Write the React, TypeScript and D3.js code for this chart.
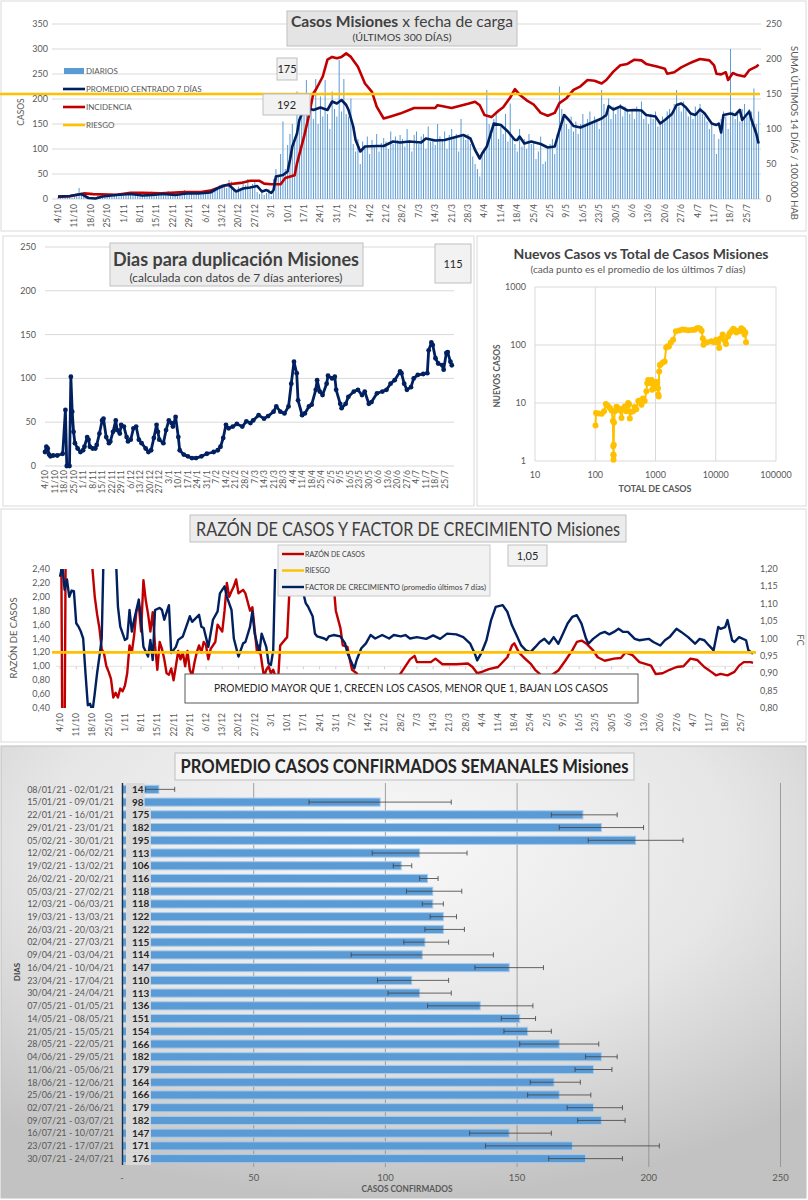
import React, { useEffect, useRef } from 'react';
import * as d3 from 'd3';

// ---------- shared weekly ticks (day 0 = 4/10/2020, 300 days) ----------
const semanasTicks = ['4/10', '11/10', '18/10', '25/10', '1/11', '8/11', '15/11', '22/11', '29/11', '6/12', '13/12', '20/12', '27/12', '3/1', '10/1', '17/1', '24/1', '31/1', '7/2', '14/2', '21/2', '28/2', '7/3', '14/3', '21/3', '28/3', '4/4', '11/4', '18/4', '25/4', '2/5', '9/5', '16/5', '23/5', '30/5', '6/6', '13/6', '20/6', '27/6', '4/7', '11/7', '18/7', '25/7'];

// ---------- Casos Misiones x fecha de carga ----------
const diarios = [
  3, 5, 2, 8, 4, 6, 3,
  4, 7, 22, 9, 5, 3, 1,
  0, 1, 2, 6, 3, 4, 5,
  8, 6, 4, 9, 7, 5, 10,
  6, 12, 8, 14, 9, 11, 7,
  5, 9, 13, 6, 8, 15, 10,
  9, 12, 14, 7, 10, 16, 8,
  6, 11, 13, 9, 7, 18, 10,
  12, 10, 8, 14, 11, 9, 13,
  15, 12, 10, 14, 20, 24, 28,
  30, 27, 22, 38, 35, 18, 12,
  25, 20, 35, 28, 40, 22, 30,
  36, 14, 10, 18, 8, 12, 20,
  6, 40, 60, 45, 90, 155, 60,
  108, 130, 150, 120, 215, 160, 178,
  190, 238, 165, 200, 160, 240, 150,
  205, 165, 238, 170, 140, 215, 180,
  165, 278, 175, 240, 170, 165, 201,
  110, 95, 120, 70, 115, 102, 125,
  90, 118, 108, 130, 95, 112, 122,
  115, 100, 135, 110, 125, 118, 128,
  120, 105, 140, 118, 95, 128, 135,
  110, 125, 130, 100, 145, 115, 120,
  108, 150, 125, 118, 135, 100, 128,
  140, 122, 130, 95, 160, 125, 118,
  130, 110, 85, 70, 60, 45, 90,
  100, 218, 150, 140, 160, 175, 120,
  145, 130, 170, 115, 191, 125, 110,
  95, 140, 105, 120, 100, 130, 110,
  115, 80, 95, 125, 70, 75, 100,
  110, 120, 90, 130, 225, 180, 160,
  150, 140, 165, 135, 155, 130, 150,
  170, 145, 160, 175, 150, 165, 155,
  140, 218, 190, 175, 201, 160, 185,
  170, 180, 190, 165, 185, 175, 170,
  180, 160, 185, 175, 195, 160, 165,
  150, 170, 160, 175, 145, 150, 165,
  155, 175, 180, 170, 190, 218, 185,
  175, 195, 180, 165, 170, 160, 185,
  175, 190, 170, 165, 155, 140, 150,
  130, 90, 120, 160, 175, 165, 140,
  300, 175, 160, 170, 155, 180, 190,
  165, 180, 175, 221, 150, 175,
];

const promedio7: [number, number][] = [[0, 5], [5, 6], [10, 10], [13, 2], [16, 1], [19, 5], [25, 8], [31, 10], [36, 7], [40, 8], [45, 10], [50, 8], [55, 11], [60, 11], [65, 13], [68, 21], [71, 27], [73, 28], [76, 15], [79, 21], [82, 23], [85, 26], [87, 15], [89, 18], [91, 12], [92, 18], [93, 45], [96, 48], [98, 55], [99, 78], [100, 105], [102, 131], [103, 158], [105, 181], [106, 183], [109, 178], [112, 183], [115, 178], [117, 195], [119, 191], [121, 198], [123, 188], [124, 178], [126, 145], [127, 118], [129, 95], [131, 105], [136, 106], [139, 106], [143, 115], [146, 113], [150, 115], [155, 113], [157, 121], [161, 117], [165, 118], [169, 123], [173, 128], [176, 121], [178, 98], [180, 81], [181, 91], [183, 105], [186, 151], [189, 148], [192, 135], [195, 118], [196, 118], [197, 125], [199, 111], [202, 115], [206, 110], [209, 103], [212, 105], [214, 138], [216, 168], [218, 158], [220, 146], [223, 143], [227, 151], [229, 155], [232, 161], [234, 168], [235, 186], [237, 179], [240, 185], [243, 177], [246, 178], [249, 177], [251, 168], [255, 165], [257, 151], [259, 158], [262, 170], [264, 188], [266, 191], [268, 183], [270, 171], [272, 168], [274, 179], [276, 171], [279, 151], [281, 148], [282, 151], [283, 133], [284, 168], [287, 171], [289, 168], [291, 178], [292, 158], [295, 175], [296, 158], [298, 131], [299, 111]];

const incidencia: [number, number][] = [[0, 3], [5, 4], [11, 8], [15, 7], [25, 6], [31, 9], [36, 9], [44, 8], [54, 10], [61, 10], [65, 12], [69, 17], [73, 21], [78, 23], [82, 26], [86, 26], [88, 22], [91, 21], [95, 21], [97, 30], [101, 34], [102, 51], [105, 89], [107, 118], [109, 151], [110, 156], [113, 175], [115, 199], [117, 203], [119, 201], [121, 203], [123, 208], [125, 203], [128, 189], [131, 165], [134, 153], [136, 132], [139, 115], [142, 118], [146, 122], [152, 130], [161, 130], [162, 134], [168, 130], [175, 136], [178, 139], [180, 134], [182, 120], [185, 117], [188, 126], [190, 131], [193, 145], [195, 157], [197, 149], [200, 141], [203, 135], [206, 123], [209, 119], [212, 123], [214, 137], [217, 144], [220, 156], [223, 161], [226, 170], [229, 169], [232, 165], [234, 170], [237, 182], [240, 191], [243, 193], [246, 199], [249, 198], [251, 193], [256, 189], [259, 186], [260, 179], [263, 181], [266, 188], [269, 193], [271, 196], [274, 200], [278, 198], [280, 191], [281, 179], [283, 178], [285, 181], [286, 170], [288, 180], [290, 177], [293, 175], [295, 184], [298, 189], [299, 192]];

const riesgoIncidencia = 150;
const ultimoDiario = 175;
const ultimaIncidencia = 192;

// ---------- Dias para duplicación ----------
const duplicacion: [number, number][] = [[0, 16], [1, 22], [2, 20], [3, 13], [4, 11], [6, 12], [9, 12], [13, 14], [15, 64], [16, 0], [18, 0], [19, 102], [20, 62], [21, 39], [22, 26], [24, 20], [26, 16], [28, 18], [29, 22], [31, 33], [32, 30], [33, 22], [35, 20], [37, 20], [38, 24], [40, 37], [42, 52], [43, 54], [45, 33], [47, 26], [48, 28], [50, 39], [52, 52], [53, 41], [55, 37], [56, 47], [58, 45], [60, 33], [61, 28], [63, 30], [65, 43], [67, 45], [69, 30], [71, 26], [74, 20], [76, 16], [78, 18], [80, 32], [82, 47], [83, 39], [84, 30], [87, 26], [89, 41], [91, 52], [93, 49], [94, 45], [96, 56], [98, 33], [99, 18], [102, 13], [105, 11], [108, 9], [111, 9], [115, 11], [119, 14], [124, 16], [127, 18], [129, 22], [131, 32], [133, 47], [135, 43], [138, 45], [141, 48], [145, 45], [148, 51], [151, 49], [153, 52], [157, 58], [161, 54], [164, 57], [168, 62], [170, 68], [173, 62], [176, 60], [179, 68], [181, 94], [183, 119], [185, 106], [186, 75], [189, 58], [191, 60], [194, 68], [196, 70], [199, 87], [200, 98], [202, 85], [204, 81], [207, 94], [208, 103], [211, 100], [213, 102], [214, 87], [217, 71], [218, 66], [221, 71], [223, 79], [227, 85], [230, 87], [233, 81], [235, 85], [238, 71], [240, 73], [244, 83], [248, 85], [251, 87], [254, 94], [257, 98], [261, 108], [262, 106], [264, 94], [266, 87], [269, 90], [271, 100], [274, 104], [278, 105], [281, 106], [282, 132], [284, 141], [285, 138], [287, 123], [289, 117], [292, 115], [293, 110], [295, 129], [296, 130], [298, 119], [299, 115]];
const ultimaDuplicacion = 115;

// ---------- Nuevos casos vs total (total, nuevos) ----------
const nuevosVsTotal: [number, number][] = [[101, 4.1], [103, 6.7], [115, 6.6], [128, 6.5], [140, 7.2], [150, 9.6], [162, 9.0], [175, 8.2], [187, 7.4], [196, 4.9], [199, 1.8], [200, 1.3], [201, 1.05], [202, 1.25], [203, 1.9], [205, 4.6], [211, 7.2], [225, 8.6], [239, 8.2], [255, 7.5], [273, 5.5], [290, 8.0], [309, 8.7], [328, 7.2], [340, 9.0], [351, 10], [365, 9.5], [375, 5.4], [390, 7.0], [424, 7.2], [450, 8.5], [480, 7.8], [518, 10.8], [550, 11], [585, 9.3], [620, 12], [662, 10.8], [705, 16], [730, 22], [755, 25], [800, 22], [860, 25], [880, 17], [930, 20], [980, 23], [1020, 18], [1070, 23], [1100, 18], [1110, 14], [1130, 13], [1150, 35], [1180, 45], [1220, 46], [1320, 50], [1420, 52], [1505, 91], [1580, 95], [1670, 94], [1800, 110], [1960, 123], [2180, 172], [2500, 178], [2800, 185], [3080, 184], [3500, 180], [4000, 182], [4450, 184], [4800, 192], [5130, 196], [5500, 190], [5830, 176], [6100, 130], [6260, 101], [6500, 112], [7200, 112], [8490, 116], [9300, 112], [10200, 123], [10800, 110], [11400, 89], [12000, 130], [13000, 151], [14000, 120], [14800, 104], [16000, 140], [17000, 160], [18200, 172], [19500, 190], [20500, 184], [22000, 165], [23500, 175], [25000, 172], [26500, 195], [28500, 184], [29500, 170], [30000, 151], [31000, 165], [31800, 112]];

// ---------- Razón de casos y factor de crecimiento ----------
const razon: [number, number][] = [[0, 6], [1, 0], [2, 0], [3, 6], [8, 5], [13, 2.9], [14, 2.4], [15, 2.0], [16, 1.75], [17, 1.55], [18, 1.25], [19, 1.18], [20, 1.0], [21, 0.92], [22, 0.82], [23, 0.55], [24, 0.62], [25, 0.55], [26, 0.68], [27, 0.64], [28, 0.72], [29, 0.9], [30, 1.3], [31, 1.2], [32, 1.45], [33, 1.8], [34, 1.88], [35, 1.5], [36, 2.24], [37, 1.95], [38, 1.75], [39, 1.5], [40, 1.78], [41, 1.3], [42, 0.95], [43, 1.35], [44, 1.25], [45, 1.1], [46, 0.9], [47, 0.88], [48, 0.97], [49, 0.8], [50, 1.0], [51, 1.22], [52, 1.1], [53, 1.2], [54, 1.0], [55, 1.22], [56, 0.95], [57, 0.86], [58, 1.05], [59, 1.2], [60, 1.3], [61, 1.2], [62, 1.35], [63, 1.3], [64, 1.1], [65, 1.25], [67, 1.35], [68, 1.6], [70, 1.5], [71, 1.8], [72, 2.2], [73, 2.0], [74, 2.08], [75, 2.15], [76, 2.25], [77, 2.05], [79, 2.1], [80, 2.05], [82, 1.8], [83, 1.85], [85, 1.2], [86, 1.3], [88, 0.85], [89, 0.95], [90, 1.0], [91, 0.9], [92, 0.95], [94, 0.75], [95, 1.3], [97, 1.38], [98, 1.42], [99, 2.1], [100, 2.7], [105, 5], [110, 4.5], [115, 3.5], [117, 2.6], [119, 1.8], [121, 1.55], [122, 1.3], [124, 1.28], [125, 1.1], [126, 0.95], [128, 0.9], [129, 0.85], [130, 0.8], [133, 0.78], [135, 0.7], [136, 0.62], [138, 0.56], [140, 0.58], [142, 0.65], [144, 0.75], [146, 0.85], [149, 1.0], [151, 1.1], [153, 1.15], [154, 1.06], [160, 1.06], [162, 1.11], [165, 1.03], [171, 1.03], [176, 1.04], [178, 0.99], [180, 0.9], [182, 0.92], [185, 0.96], [189, 0.99], [193, 1.13], [195, 1.3], [196, 1.33], [198, 1.2], [200, 1.13], [203, 1.04], [205, 0.95], [207, 0.89], [209, 0.79], [212, 0.87], [215, 0.94], [218, 1.08], [221, 1.23], [223, 1.35], [225, 1.37], [227, 1.33], [230, 1.23], [232, 1.13], [235, 1.08], [239, 1.11], [242, 1.12], [244, 1.2], [247, 1.16], [250, 1.06], [255, 1.01], [257, 0.89], [260, 0.9], [263, 0.95], [266, 0.99], [269, 1.0], [272, 1.11], [275, 1.09], [278, 0.99], [281, 0.92], [283, 0.87], [285, 0.89], [288, 0.87], [291, 0.92], [293, 1.01], [295, 1.06], [298, 1.06], [299, 1.05]];

const factorCrec: [number, number][] = [[0, 1.178], [1, 1.21], [2, 1.14], [3, 1.17], [4, 1.12], [5, 1.138], [6, 1.136], [7, 1.044], [8, 1.034], [9, 1.02], [10, 1.0], [11, 0.9], [12, 0.808], [13, 0.812], [14, 0.79], [15, 0.842], [16, 0.9], [17, 0.948], [18, 1.0], [19, 1.3], [22, 1.3], [24, 1.25], [25, 1.092], [26, 1.034], [28, 0.996], [29, 1.0], [30, 1.082], [31, 1.02], [32, 1.054], [34, 1.112], [35, 1.054], [36, 0.976], [38, 0.948], [39, 0.996], [40, 0.938], [41, 1.082], [43, 1.088], [44, 1.082], [45, 1.054], [47, 1.096], [48, 0.958], [50, 0.976], [51, 0.996], [53, 1.006], [55, 1.044], [56, 1.064], [57, 1.048], [60, 1.068], [61, 1.034], [62, 1.03], [64, 0.976], [66, 1.054], [68, 1.078], [69, 1.13], [71, 1.15], [72, 1.12], [74, 1.082], [75, 1.0], [77, 0.948], [79, 0.986], [80, 0.99], [82, 1.034], [83, 1.078], [84, 1.014], [86, 0.958], [87, 1.014], [89, 0.976], [90, 0.928], [91, 0.924], [92, 0.966], [93, 1.25], [96, 1.4], [100, 1.35], [103, 1.22], [104, 1.16], [105, 1.13], [106, 1.102], [107, 1.092], [109, 1.064], [110, 1.014], [111, 1.006], [114, 1.0], [115, 0.996], [116, 1.006], [118, 1.01], [121, 1.006], [123, 0.986], [124, 0.958], [126, 0.928], [127, 0.914], [128, 0.938], [130, 0.972], [132, 0.986], [134, 1.01], [136, 1.0], [139, 1.01], [142, 1.0], [144, 1.01], [147, 1.006], [149, 1.01], [151, 1.0], [154, 1.004], [158, 0.999], [161, 1.009], [164, 0.999], [167, 1.014], [171, 1.012], [174, 1.004], [177, 0.985], [179, 0.956], [180, 0.937], [182, 0.961], [184, 0.995], [186, 1.053], [188, 1.091], [191, 1.096], [193, 1.077], [195, 1.038], [197, 1.009], [199, 0.98], [201, 0.966], [203, 0.961], [205, 0.975], [207, 0.99], [209, 0.999], [211, 0.985], [213, 1.004], [215, 0.985], [217, 1.014], [219, 1.043], [221, 1.062], [223, 1.067], [225, 1.043], [227, 0.999], [228, 0.985], [230, 0.999], [233, 1.014], [235, 1.019], [237, 1.012], [239, 1.019], [241, 1.028], [243, 1.019], [245, 1.019], [248, 0.999], [250, 0.995], [254, 0.999], [256, 0.99], [259, 0.98], [261, 0.995], [263, 1.004], [266, 1.028], [268, 1.019], [271, 1.004], [274, 0.985], [276, 0.999], [278, 0.995], [280, 0.98], [282, 0.966], [284, 1.033], [285, 1.028], [287, 1.033], [288, 1.053], [290, 0.995], [291, 0.99], [293, 1.004], [296, 0.995], [297, 0.966], [299, 0.956]];

const riesgoRazon = 1.2;
const ultimoFC = '1,05';

// ---------- Promedio casos confirmados semanales ----------
const semanas = ['08/01/21 - 02/01/21', '15/01/21 - 09/01/21', '22/01/21 - 16/01/21', '29/01/21 - 23/01/21', '05/02/21 - 30/01/21', '12/02/21 - 06/02/21', '19/02/21 - 13/02/21', '26/02/21 - 20/02/21', '05/03/21 - 27/02/21', '12/03/21 - 06/03/21', '19/03/21 - 13/03/21', '26/03/21 - 20/03/21', '02/04/21 - 27/03/21', '09/04/21 - 03/04/21', '16/04/21 - 10/04/21', '23/04/21 - 17/04/21', '30/04/21 - 24/04/21', '07/05/21 - 01/05/21', '14/05/21 - 08/05/21', '21/05/21 - 15/05/21', '28/05/21 - 22/05/21', '04/06/21 - 29/05/21', '11/06/21 - 05/06/21', '18/06/21 - 12/06/21', '25/06/21 - 19/06/21', '02/07/21 - 26/06/21', '09/07/21 - 03/07/21', '16/07/21 - 10/07/21', '23/07/21 - 17/07/21', '30/07/21 - 24/07/21'];
const promSemanal = [14, 98, 175, 182, 195, 113, 106, 116, 118, 118, 122, 122, 115, 114, 147, 110, 113, 136, 151, 154, 166, 182, 179, 164, 166, 179, 182, 147, 171, 176];
const minSemanal = [9, 71, 163, 166, 177, 95, 103, 113, 108, 114, 117, 115, 107, 87, 134, 97, 101, 116, 144, 145, 151, 176, 172, 155, 154, 169, 173, 132, 138, 162];
const maxSemanal = [20, 125, 188, 198, 213, 131, 110, 120, 129, 122, 127, 130, 124, 141, 160, 124, 125, 156, 157, 163, 181, 188, 186, 174, 178, 190, 191, 163, 204, 190];

const FONT = 'Lato, "Open Sans", "DejaVu Sans", sans-serif';
const GRAY = '#595959';
const NAVY = '#002060';
const RED = '#c00000';
const YELLOW = '#ffc000';
const BLUE = '#5b9bd5';
const GRID = '#d9d9d9';

const coma = (v: number) => d3.format('.2f')(v).replace('.', ',');

function txt(g: any, x: number, y: number, s: string, o: any = {}) {
  const t = g.append('text')
    .attr('x', x).attr('y', y)
    .attr('font-size', o.size ?? 9)
    .attr('fill', o.fill ?? GRAY)
    .attr('text-anchor', o.anchor ?? 'start')
    .attr('font-weight', o.weight ?? 'normal')
    .text(s);
  if (o.len) t.attr('textLength', o.len).attr('lengthAdjust', 'spacingAndGlyphs');
  if (o.rotate) t.attr('transform', `rotate(${o.rotate},${x},${y})`);
  if (o.mid) t.attr('dominant-baseline', 'central');
  return t;
}

function box(g: any, x: number, y: number, w: number, h: number, fill = '#f2f2f2', stroke = '#bfbfbf') {
  return g.append('rect').attr('x', x).attr('y', y).attr('width', w).attr('height', h)
    .attr('fill', fill).attr('stroke', stroke).attr('stroke-width', 1);
}

function dateLabels(g: any, x: any, yEnd: number) {
  semanasTicks.forEach((s, i) => {
    txt(g, x(i * 7), yEnd, s, { size: 8.5, anchor: 'end', rotate: -90, mid: true });
  });
}

function drawCasos(svg: any) {
  const g = svg.append('g');
  const x = d3.scaleLinear().domain([0, 299]).range([58, 758.6]);
  const yL = d3.scaleLinear().domain([0, 350]).range([199, 24]);
  const yR = d3.scaleLinear().domain([0, 250]).range([199, 24]);

  g.selectAll('line.grid').data(d3.range(0, 351, 50)).join('line')
    .attr('x1', 52).attr('x2', 761).attr('y1', (d: number) => yL(d)).attr('y2', (d: number) => yL(d))
    .attr('stroke', GRID).attr('stroke-width', 1);

  g.selectAll('rect.diario').data(diarios).join('rect')
    .attr('x', (_: number, i: number) => x(i) - 0.5).attr('width', 1.0)
    .attr('y', (d: number) => yL(d)).attr('height', (d: number) => yL(0) - yL(d))
    .attr('fill', BLUE);

  const lineR = d3.line<[number, number]>().x(d => x(d[0])).y(d => yR(d[1]));
  const lineL = d3.line<[number, number]>().x(d => x(d[0])).y(d => yL(d[1]));
  g.append('path').attr('d', lineR(incidencia)).attr('fill', 'none').attr('stroke', RED).attr('stroke-width', 2.6).attr('stroke-linejoin', 'round');
  g.append('path').attr('d', lineL(promedio7)).attr('fill', 'none').attr('stroke', NAVY).attr('stroke-width', 2.6).attr('stroke-linejoin', 'round');
  g.append('line').attr('x1', 0).attr('x2', 760).attr('y1', yR(riesgoIncidencia)).attr('y2', yR(riesgoIncidencia))
    .attr('stroke', YELLOW).attr('stroke-width', 2.6);

  d3.range(0, 351, 50).forEach(v => txt(g, 48, yL(v) + 3, String(v), { size: 9, anchor: 'end' }));
  d3.range(0, 251, 50).forEach(v => txt(g, 766, yR(v) + 3, String(v), { size: 9 }));
  dateLabels(g, x, 204);

  txt(g, 24, 112, 'CASOS', { size: 8.5, anchor: 'middle', rotate: -90 });
  txt(g, 791, 133, 'SUMA  ÚLTIMOS 14 DÍAS / 100.000 HAB', { size: 9, anchor: 'middle', rotate: 90, len: 174 });

  // legend
  const items = [
    { label: 'DIARIOS', color: BLUE, bar: true },
    { label: 'PROMEDIO CENTRADO 7 DÍAS', color: NAVY },
    { label: 'INCIDENCIA', color: RED },
    { label: 'RIESGO', color: YELLOW },
  ];
  items.forEach((it, i) => {
    const yy = 71 + i * 18;
    if (it.bar) g.append('rect').attr('x', 64).attr('y', yy - 3).attr('width', 20).attr('height', 6).attr('fill', it.color);
    else g.append('line').attr('x1', 63).attr('x2', 85).attr('y1', yy).attr('y2', yy).attr('stroke', it.color).attr('stroke-width', 2.6);
    txt(g, 86, yy + 3, it.label, { size: 8 });
  });

  // title
  box(g, 287, 11, 230, 35, '#e4e4e4', '#bfbfbf');
  const t = g.append('text').attr('x', 402).attr('y', 27).attr('text-anchor', 'middle').attr('font-size', 15).attr('fill', '#404040')
    .attr('textLength', 222).attr('lengthAdjust', 'spacingAndGlyphs');
  t.append('tspan').attr('font-weight', 'bold').text('Casos Misiones');
  t.append('tspan').text(' x fecha de carga');
  txt(g, 402, 41, '(ÚLTIMOS 300 DÍAS)', { size: 9.5, anchor: 'middle', fill: '#404040', len: 99 });

  box(g, 277, 58, 20, 22, '#f2f2f2');
  txt(g, 287, 73, String(ultimoDiario), { size: 11, anchor: 'middle', fill: '#262626' });
  box(g, 263, 94, 47, 21, '#f2f2f2');
  txt(g, 286.5, 109, String(ultimaIncidencia), { size: 11, anchor: 'middle', fill: '#262626' });
}

function drawDuplicacion(svg: any) {
  const g = svg.append('g');
  const x = d3.scaleLinear().domain([0, 299]).range([45, 451.8]);
  const y = d3.scaleLinear().domain([0, 250]).range([466, 247]);
  d3.range(0, 251, 50).forEach(v => {
    g.append('line').attr('x1', 45).attr('x2', 454).attr('y1', y(v)).attr('y2', y(v)).attr('stroke', GRID);
    txt(g, 36, y(v) + 3, String(v), { size: 9, anchor: 'end' });
  });
  const line = d3.line<[number, number]>().x(d => x(d[0])).y(d => y(d[1]));
  g.append('path').attr('d', line(duplicacion)).attr('fill', 'none').attr('stroke', NAVY).attr('stroke-width', 2.8).attr('stroke-linejoin', 'round');
  g.selectAll('circle').data(duplicacion).join('circle')
    .attr('cx', (d: [number, number]) => x(d[0])).attr('cy', (d: [number, number]) => y(d[1])).attr('r', 2.4).attr('fill', NAVY);
  dateLabels(g, x, 470);

  box(g, 110, 243, 253, 43, '#ececec');
  txt(g, 236, 266, 'Dias para duplicación Misiones', { size: 19, weight: 'bold', anchor: 'middle', fill: '#404040', len: 246 });
  txt(g, 236, 282, '(calculada con datos de 7 días anteriores)', { size: 11.5, anchor: 'middle', fill: '#404040', len: 213 });
  box(g, 435, 244, 36, 39, '#f2f2f2');
  txt(g, 453, 268, String(ultimaDuplicacion), { size: 11, anchor: 'middle', fill: '#262626' });
}

function drawScatter(svg: any) {
  const g = svg.append('g');
  const x = d3.scaleLog().domain([10, 100000]).range([535, 776]);
  const y = d3.scaleLog().domain([1, 1000]).range([461, 287]);
  [10, 100, 1000, 10000, 100000].forEach(v => {
    g.append('line').attr('x1', x(v)).attr('x2', x(v)).attr('y1', 287).attr('y2', 461).attr('stroke', GRID);
    txt(g, x(v), 478, String(v), { size: 9, anchor: 'middle' });
  });
  [1, 10, 100, 1000].forEach(v => {
    g.append('line').attr('x1', 535).attr('x2', 776).attr('y1', y(v)).attr('y2', y(v)).attr('stroke', GRID);
    txt(g, 526, y(v) + 3, String(v), { size: 9, anchor: 'end' });
  });
  const line = d3.line<[number, number]>().x(d => x(d[0])).y(d => y(d[1]));
  g.append('path').attr('d', line(nuevosVsTotal)).attr('fill', 'none').attr('stroke', YELLOW).attr('stroke-width', 2);
  g.selectAll('circle').data(nuevosVsTotal).join('circle')
    .attr('cx', (d: [number, number]) => x(d[0])).attr('cy', (d: [number, number]) => y(d[1])).attr('r', 3).attr('fill', YELLOW);

  txt(g, 641, 259, 'Nuevos Casos vs Total de Casos Misiones', { size: 13, weight: 'bold', anchor: 'middle', fill: '#404040', len: 255 });
  txt(g, 638, 273, '(cada punto es el promedio de los últimos 7 días)', { size: 9, anchor: 'middle', len: 215 });
  txt(g, 655, 492, 'TOTAL DE CASOS', { size: 9, weight: 'bold', anchor: 'middle', len: 73 });
  txt(g, 500, 376, 'NUEVOS CASOS', { size: 9, weight: 'bold', anchor: 'middle', rotate: -90, len: 63 });
}

function drawRazon(svg: any, defs: any) {
  const g = svg.append('g');
  const x = d3.scaleLinear().domain([0, 299]).range([60, 753]);
  const yR = d3.scaleLinear().domain([0.4, 2.4]).range([708, 569]);
  const yF = d3.scaleLinear().domain([0.8, 1.2]).range([708, 569]);

  defs.append('clipPath').attr('id', 'clipRazon').append('rect').attr('x', 55).attr('y', 569).attr('width', 702).attr('height', 139);

  // category axis crossing at 1,00
  g.append('line').attr('x1', 56).attr('x2', 755).attr('y1', yR(1)).attr('y2', yR(1)).attr('stroke', '#e3e3e3');
  semanasTicks.forEach((_, i) => {
    g.append('line').attr('x1', x(i * 7)).attr('x2', x(i * 7)).attr('y1', yR(1)).attr('y2', yR(1) + 3).attr('stroke', '#d0d0d0');
  });

  d3.range(0.4, 2.41, 0.2).forEach(v => txt(g, 50, yR(v) + 3, coma(v), { size: 9, anchor: 'end' }));
  d3.range(0.8, 1.201, 0.05).forEach(v => txt(g, 760, yF(v) + 3, coma(v), { size: 9 }));

  const clip = g.append('g').attr('clip-path', 'url(#clipRazon)');
  const lineR = d3.line<[number, number]>().x(d => x(d[0])).y(d => yR(d[1]));
  const lineF = d3.line<[number, number]>().x(d => x(d[0])).y(d => yF(d[1]));
  clip.append('path').attr('d', lineR(razon)).attr('fill', 'none').attr('stroke', RED).attr('stroke-width', 2.4).attr('stroke-linejoin', 'round');
  clip.append('path').attr('d', lineF(factorCrec)).attr('fill', 'none').attr('stroke', NAVY).attr('stroke-width', 2.4).attr('stroke-linejoin', 'round');
  g.append('line').attr('x1', 52).attr('x2', 756).attr('y1', yR(riesgoRazon)).attr('y2', yR(riesgoRazon)).attr('stroke', YELLOW).attr('stroke-width', 2.6);

  dateLabels(g, x, 713);
  txt(g, 17, 638, 'RAZÓN  DE CASOS', { size: 9.5, anchor: 'middle', rotate: -90 });
  txt(g, 797, 640, 'FC', { size: 9.5, anchor: 'middle', rotate: 90 });

  box(g, 190, 515, 436, 27, '#ececec');
  txt(g, 408, 536, 'RAZÓN DE CASOS Y FACTOR DE CRECIMIENTO Misiones', { size: 19, anchor: 'middle', fill: '#404040', len: 424 });

  box(g, 278, 545, 212, 51, '#f2f2f2', '#c8c8c8');
  const items = [
    { label: 'RAZÓN DE CASOS', color: RED, len: 0 },
    { label: 'RIESGO', color: YELLOW, len: 0 },
    { label: 'FACTOR DE CRECIMIENTO (promedio últimos 7 días)', color: NAVY, len: 181 },
  ];
  items.forEach((it, i) => {
    const yy = 554 + i * 16.5;
    g.append('line').attr('x1', 282).attr('x2', 304).attr('y1', yy).attr('y2', yy).attr('stroke', it.color).attr('stroke-width', 2.4);
    txt(g, 305, yy + 2.5, it.label, { size: 7, fill: '#404040', len: it.len || undefined });
  });

  box(g, 508, 545, 39, 21, '#f2f2f2');
  txt(g, 527.5, 560, ultimoFC, { size: 11, anchor: 'middle', fill: '#262626' });

  box(g, 185, 674, 453, 29, '#ffffff', '#595959');
  txt(g, 411, 692, 'PROMEDIO MAYOR QUE 1, CRECEN LOS CASOS, MENOR QUE 1, BAJAN LOS CASOS', { size: 10.5, anchor: 'middle', fill: '#262626', len: 394 });
}

function drawSemanal(svg: any, defs: any) {
  const grad = defs.append('radialGradient').attr('id', 'bgSemanal').attr('cx', '48%').attr('cy', '22%').attr('r', '78%');
  grad.append('stop').attr('offset', '0%').attr('stop-color', '#f8f8f8');
  grad.append('stop').attr('offset', '55%').attr('stop-color', '#e6e6e6');
  grad.append('stop').attr('offset', '100%').attr('stop-color', '#c2c2c2');

  const g = svg.append('g');
  g.append('rect').attr('x', 1).attr('y', 746).attr('width', 805).attr('height', 452).attr('fill', 'url(#bgSemanal)').attr('stroke', '#bfbfbf');

  const x = d3.scaleLinear().domain([0, 250]).range([122, 780.5]);
  const y = d3.scaleBand().domain(semanas).range([783, 1165]).paddingInner(0.36).paddingOuter(0.18);
  const step = y.step();

  [50, 100, 150, 200, 250].forEach(v => {
    g.append('line').attr('x1', x(v)).attr('x2', x(v)).attr('y1', 783).attr('y2', 1167).attr('stroke', '#8c8c8c').attr('stroke-width', 0.8);
  });
  [0, 50, 100, 150, 200, 250].forEach(v => {
    txt(g, x(v), 1181, v === 0 ? '-' : String(v), { size: 9.5, anchor: 'middle' });
  });

  g.selectAll('rect.bar').data(promSemanal).join('rect')
    .attr('x', x(0)).attr('y', (_: number, i: number) => y(semanas[i]) as number)
    .attr('width', (d: number) => x(d) - x(0)).attr('height', y.bandwidth())
    .attr('fill', BLUE).attr('stroke', '#a9cbeb').attr('stroke-width', 1);

  // value labels on a grey column
  promSemanal.forEach((v, i) => {
    const cy = (y(semanas[i]) as number) + y.bandwidth() / 2;
    const w = String(v).length * 6.3 + 6;
    g.append('rect').attr('x', 126).attr('y', cy - step / 2).attr('width', w).attr('height', step).attr('fill', '#d9d9d9');
    txt(g, 132, cy + 3.5, String(v), { size: 10, weight: 'bold', fill: '#262626' });
    txt(g, 114, cy + 3.3, semanas[i], { size: 9, anchor: 'end' });
  });

  // error bars (min–max of the week)
  promSemanal.forEach((_, i) => {
    const cy = (y(semanas[i]) as number) + y.bandwidth() / 2;
    const x1 = x(minSemanal[i]);
    const x2 = x(maxSemanal[i]);
    g.append('line').attr('x1', x1).attr('x2', x2).attr('y1', cy).attr('y2', cy).attr('stroke', '#404040').attr('stroke-width', 0.8);
    [x1, x2].forEach(xx => g.append('line').attr('x1', xx).attr('x2', xx).attr('y1', cy - 2.5).attr('y2', cy + 2.5).attr('stroke', '#404040').attr('stroke-width', 0.8));
  });

  g.append('line').attr('x1', 122.5).attr('x2', 122.5).attr('y1', 783).attr('y2', 1165).attr('stroke', '#1f2d40').attr('stroke-width', 1.4);

  box(g, 175, 753, 459, 27, '#f5f5f5', '#bfbfbf');
  txt(g, 404.5, 773, 'PROMEDIO CASOS CONFIRMADOS SEMANALES Misiones', { size: 18, weight: 'bold', anchor: 'middle', fill: '#262626', len: 448 });
  txt(g, 407, 1192, 'CASOS CONFIRMADOS', { size: 8.5, weight: 'bold', anchor: 'middle', len: 91 });
  txt(g, 20, 972, 'DIAS', { size: 8, weight: 'bold', anchor: 'middle', rotate: -90, fill: '#404040' });
}

export default function App() {
  const ref = useRef<SVGSVGElement>(null);

  useEffect(() => {
    if (!ref.current) return;
    const svg = d3.select(ref.current);
    svg.selectAll('*').remove();
    const defs = svg.append('defs');

    // panel frames
    svg.append('rect').attr('width', 808).attr('height', 1200).attr('fill', '#ffffff');
    box(svg, 1, 1, 805, 230, '#ffffff', GRID);
    box(svg, 3, 236, 471, 270, '#ffffff', GRID);
    box(svg, 477, 236, 329, 270, '#ffffff', GRID);
    box(svg, 1, 509, 805, 233, '#ffffff', GRID);

    drawCasos(svg);
    drawDuplicacion(svg);
    drawScatter(svg);
    drawRazon(svg, defs);
    drawSemanal(svg, defs);
  }, []);

  return (
    <div style={{ position: 'absolute', left: 0, top: 0 }}>
      <svg ref={ref} width={808} height={1200} style={{ display: 'block', fontFamily: FONT }} />
    </div>
  );
}
